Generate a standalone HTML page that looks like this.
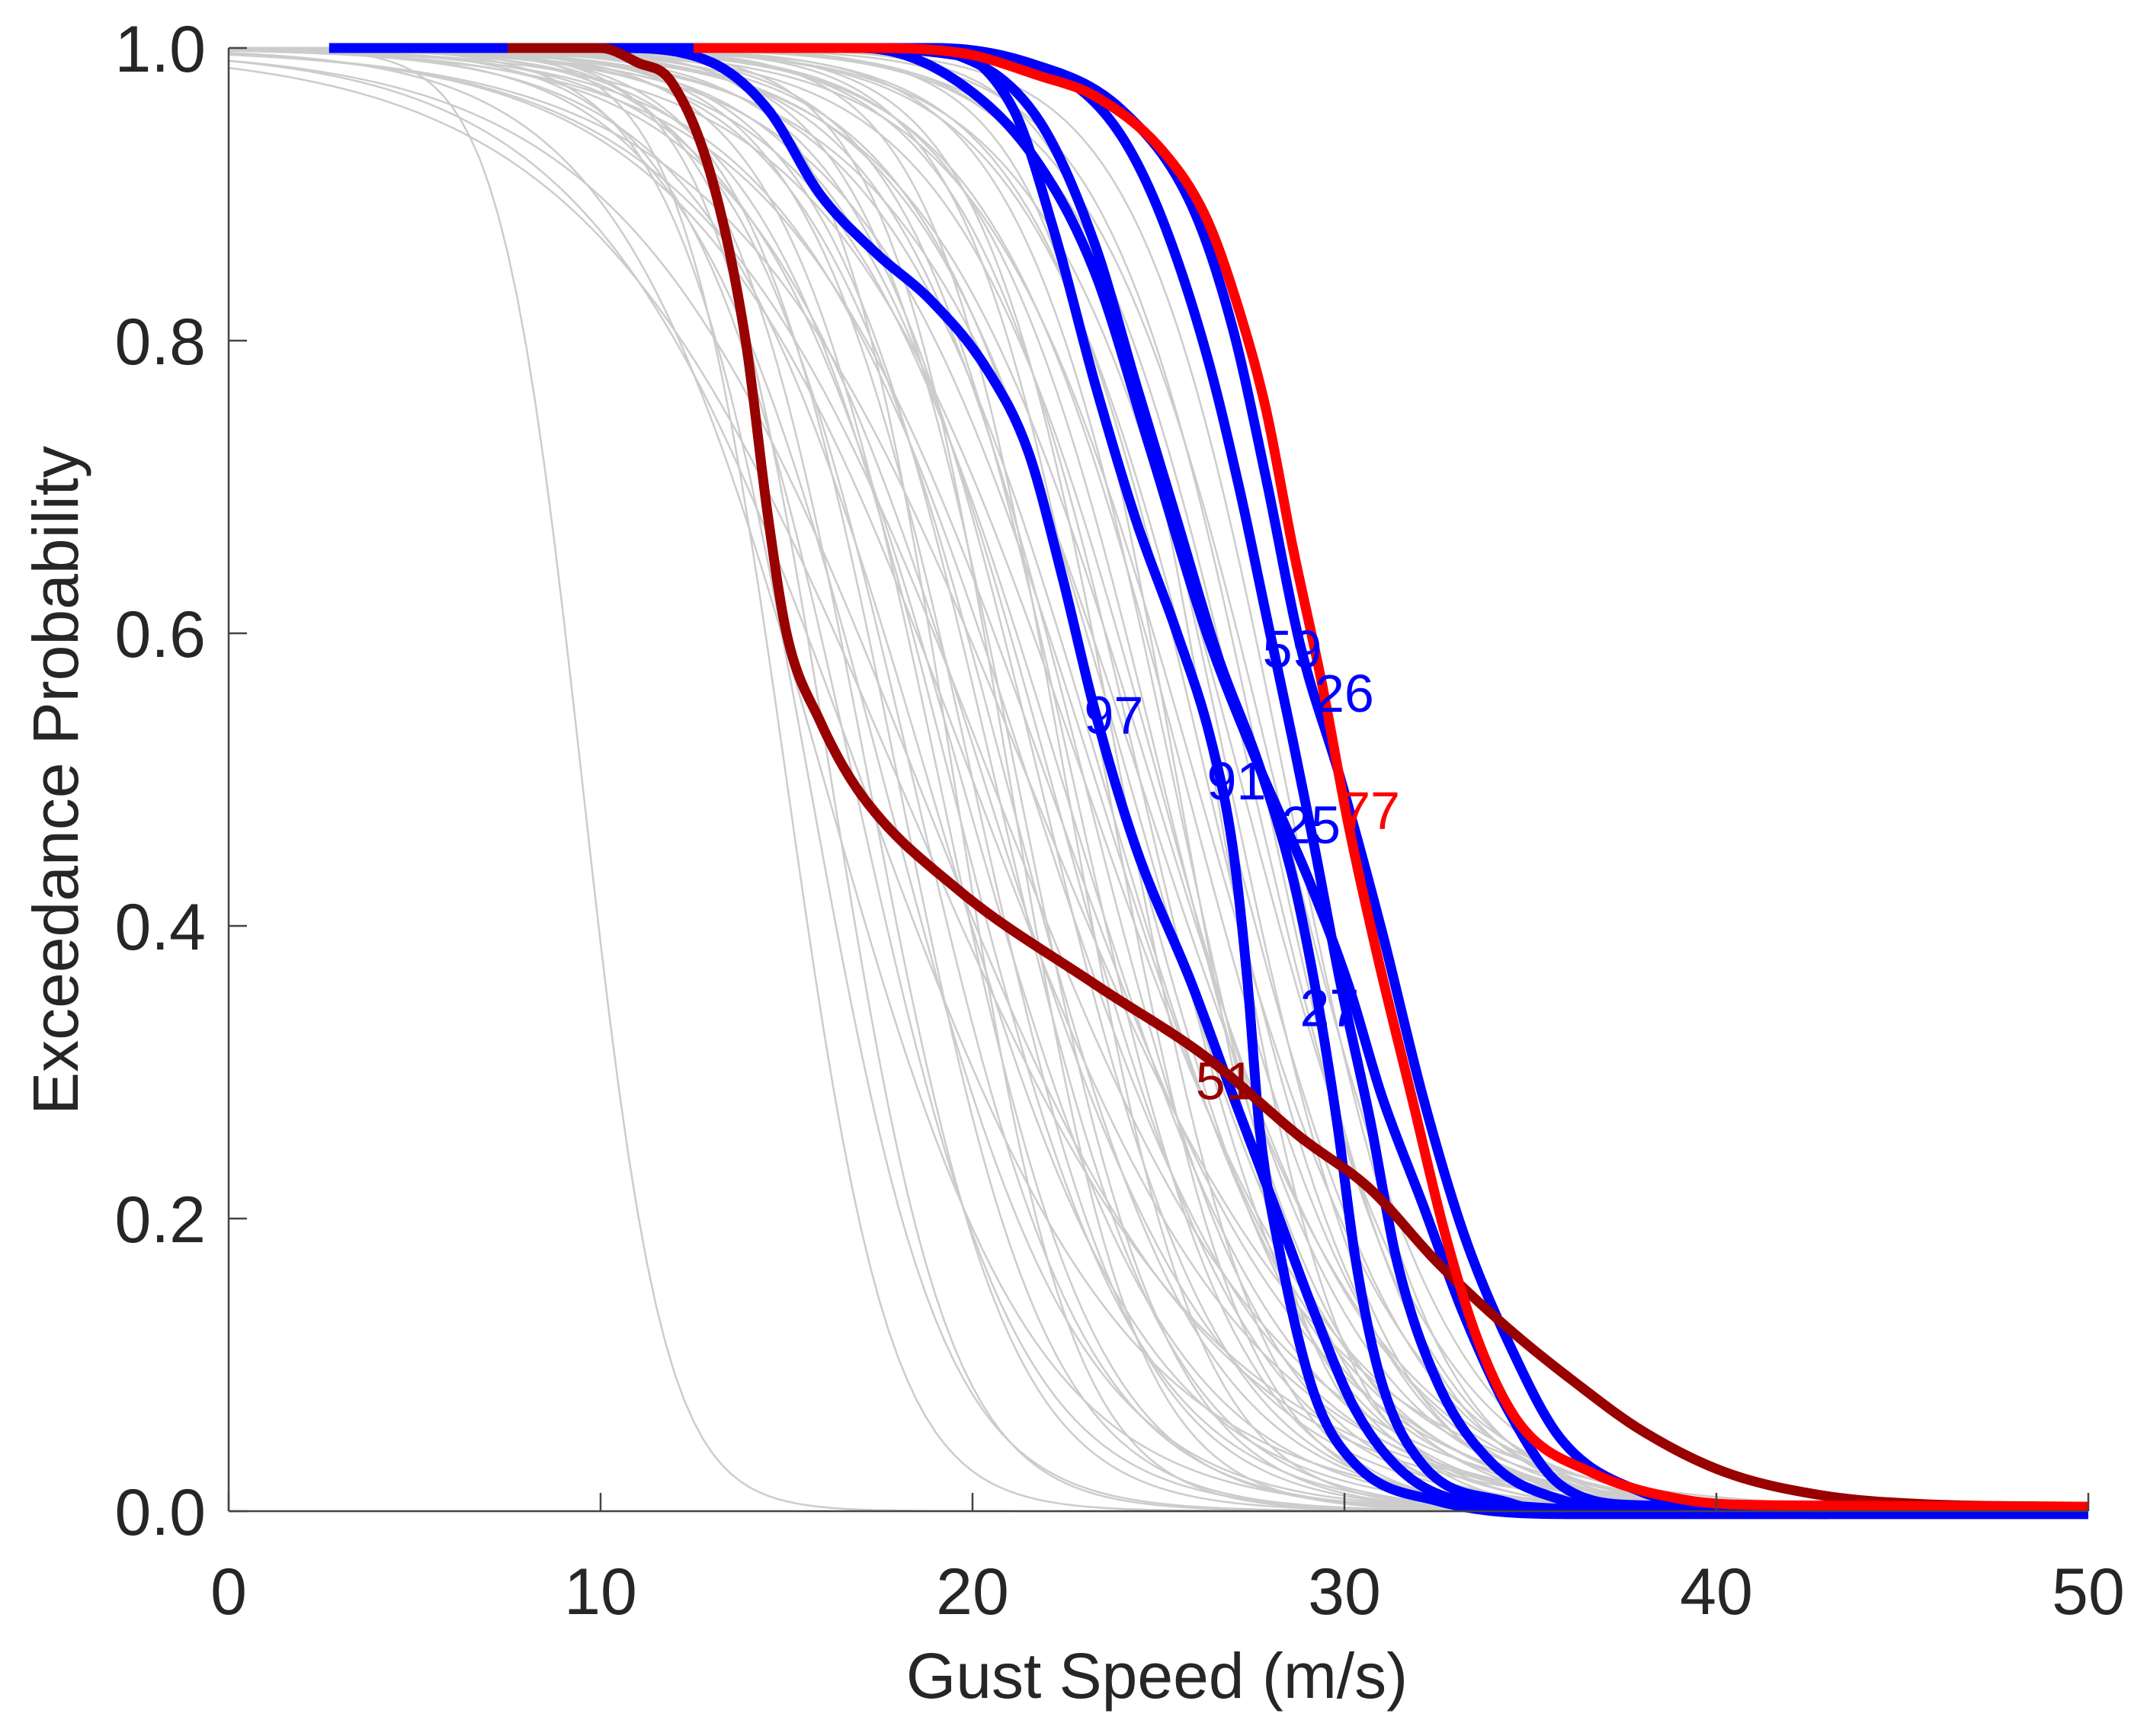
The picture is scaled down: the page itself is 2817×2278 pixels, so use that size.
<!DOCTYPE html>
<html><head><meta charset="utf-8"><style>
html,body{margin:0;padding:0;background:#fff}
svg{display:block}
text{font-family:"Liberation Sans",sans-serif}
</style></head><body>
<svg id="chart" width="2817" height="2278" viewBox="0 0 2817 2278" xmlns="http://www.w3.org/2000/svg">
<g id="gray"></g>
<g id="hl"></g>
<g id="axes"></g>
<g id="lbls"></g>
<text x="1518" y="2228" font-size="84" fill="#262626" text-anchor="middle">Gust Speed (m/s)</text>
<text transform="translate(102,1024) rotate(-90)" font-size="84" fill="#262626" text-anchor="middle">Exceedance Probability</text>
</svg>
<script>
const xTicks=[0,10,20,30,40,50];
const yTicks=[0,0.2,0.4,0.6,0.8,1.0];
const yTickLabels=["0.0","0.2","0.4","0.6","0.8","1.0"];
// background curves: median speed and spread
const grayCenters=[9.5,15.0,15.6,16.2,16.8,17.2,17.6,18.0,18.4,18.8,19.1,19.4,19.7,20.0,20.3,20.6,20.9,21.2,21.5,21.8,22.1,22.4,22.7,23.0,23.3,23.6,23.9,24.2,24.5,24.8,25.1,25.4,25.7,26.0,26.3,26.6,26.9,27.2,27.5,27.8,28.1,28.4,17.0,18.5,20.0,21.5,23.0,24.5,19.5,21.0,22.5,24.0,25.5,26.5,16.0,18.0,20.5,22.0,23.5,25.0];
const graySpreads=[1.1,1.4,1.8,1.6,2.2,1.9,2.6,2.0,2.3,2.9,2.1,2.5,2.8,2.2,3.1,2.3,2.6,2.0,3.2,2.4,2.7,3.0,2.2,2.5,3.1,1.9,2.6,2.8,2.3,3.0,2.4,2.1,2.6,2.8,2.3,2.5,2.1,2.6,2.3,2.1,2.4,2.0,3.6,3.9,3.7,4.0,3.4,3.2,1.6,1.7,1.8,1.9,1.8,1.7,2.8,4.2,3.8,3.5,2.9,2.7];
// highlighted series [speed, probability]
const s51=[[7.5,1.0],[10,1.0],[11,0.99],[11.9,0.977],[13,0.91],[13.9,0.8],[14.5,0.68],[15,0.6],[15.9,0.54],[17,0.49],[19.6,0.425],[23.3,0.36],[26.3,0.31],[28.8,0.256],[30.7,0.22],[32.5,0.17],[34.4,0.125],[36.2,0.088],[38,0.055],[40.2,0.027],[42.8,0.011],[45.4,0.005],[50,0.003]];
const s77=[[12.5,1.0],[17,1.0],[19.6,0.997],[21.8,0.981],[23.3,0.967],[25.1,0.93],[26.3,0.883],[27.2,0.818],[27.9,0.752],[28.6,0.66],[29.4,0.565],[30.1,0.47],[30.9,0.378],[31.8,0.284],[32.7,0.19],[33.6,0.116],[34.7,0.06],[36.6,0.027],[39.1,0.008],[41.7,0.004],[50,0.003]];
const s97=[[2.7,1.0],[10.4,1.0],[13,0.99],[14.5,0.958],[15.9,0.9],[17.4,0.86],[18.9,0.827],[20.4,0.78],[21.5,0.724],[22.4,0.64],[23.3,0.546],[24.4,0.453],[25.9,0.36],[27,0.284],[28.1,0.21],[29.2,0.135],[30.3,0.069],[31.8,0.022],[34.4,0.004],[43,-0.002]];
const s91=[[8,1.0],[19,1.0],[21.1,0.958],[22.2,0.874],[23.3,0.77],[24.4,0.677],[25.5,0.6],[26.4,0.528],[27,0.453],[27.4,0.36],[27.7,0.266],[28.3,0.172],[29.2,0.079],[30.3,0.032],[32.5,0.007],[36,-0.002],[50,-0.002]];
const s25=[[8,1.0],[17,1.0],[19.6,0.977],[21.8,0.92],[23.3,0.846],[24.8,0.724],[26.3,0.6],[27.7,0.509],[29,0.434],[30.1,0.36],[31,0.284],[32.1,0.21],[33.2,0.135],[34.4,0.069],[35.8,0.018],[38,0.004],[50,0.0]];
const s27=[[8,1.0],[18,1.0],[19.6,0.995],[21.8,0.95],[23.3,0.865],[24.4,0.77],[25.5,0.677],[26.6,0.584],[27.7,0.51],[28.6,0.434],[29.2,0.36],[29.8,0.266],[30.3,0.172],[31,0.088],[32.1,0.032],[34.4,0.006],[36,-0.002],[50,-0.002]];
const s59=[[8,1.0],[17,1.0],[19.6,0.995],[22.6,0.977],[24,0.94],[25.1,0.883],[26.3,0.79],[27.2,0.696],[27.9,0.612],[28.6,0.528],[29.2,0.453],[29.9,0.36],[30.7,0.266],[31.4,0.172],[32.5,0.088],[34,0.032],[35.8,0.008],[38,0.0],[50,0.0]];
const s26=[[8,1.0],[19,1.0],[21.5,0.99],[24,0.958],[25.9,0.892],[27,0.808],[27.9,0.705],[28.8,0.593],[29.9,0.5],[31,0.397],[32.1,0.284],[33.2,0.19],[34.4,0.116],[35.8,0.05],[38,0.013],[40.2,0.004],[50,0.0]];
const labelNames=["97","59","26","91","25","77","27","51"];
const labelPos=[[23,0.545],[27.8,0.59],[29.2,0.56],[26.3,0.5],[28.3,0.47],[29.9,0.48],[28.8,0.345],[26,0.295]];
const labelColors=["#0000ff","#0000ff","#0000ff","#0000ff","#0000ff","#ff0000","#0000ff","#990000"];

const NS="http://www.w3.org/2000/svg";
const X=v=>300+v*48.8;
const Y=p=>1983-p*1920;
function monotonePath(pts){
  const n=pts.length,xs=pts.map(p=>p[0]),ys=pts.map(p=>p[1]);
  const d=[],m=new Array(n);
  for(let i=0;i<n-1;i++)d.push((ys[i+1]-ys[i])/(xs[i+1]-xs[i]));
  m[0]=d[0];m[n-1]=d[n-2];
  for(let i=1;i<n-1;i++){m[i]=(d[i-1]*d[i]<=0)?0:(d[i-1]+d[i])/2;}
  for(let i=0;i<n-1;i++){
    if(d[i]===0){m[i]=0;m[i+1]=0;continue;}
    const a=m[i]/d[i],b=m[i+1]/d[i],s=a*a+b*b;
    if(s>9){const t=3/Math.sqrt(s);m[i]=t*a*d[i];m[i+1]=t*b*d[i];}
  }
  let str="M"+X(xs[0]).toFixed(1)+","+Y(ys[0]).toFixed(1);
  for(let i=0;i<n-1;i++){
    const h=xs[i+1]-xs[i];
    str+=" C"+X(xs[i]+h/3).toFixed(1)+","+Y(ys[i]+m[i]*h/3).toFixed(1)+" "+X(xs[i+1]-h/3).toFixed(1)+","+Y(ys[i+1]-m[i+1]*h/3).toFixed(1)+" "+X(xs[i+1]).toFixed(1)+","+Y(ys[i+1]).toFixed(1);
  }
  return str;
}
const gG=document.getElementById("gray");
grayCenters.forEach((c,i)=>{
  const w=graySpreads[i];
  let d="";
  for(let v=0;v<=50.001;v+=0.25){
    const p=1/(1+Math.exp((v-c)/w));
    d+=(v===0?"M":"L")+X(v).toFixed(1)+","+Y(p).toFixed(1);
  }
  const el=document.createElementNS(NS,"path");
  el.setAttribute("d",d);
  el.setAttribute("fill","none");
  el.setAttribute("stroke","#cccccc");
  el.setAttribute("stroke-width","2.5");
  
  
  gG.appendChild(el);
});
const hl=document.getElementById("hl");
const series=[[s97,"#0000ff","curve-97"],[s91,"#0000ff","curve-91"],[s25,"#0000ff","curve-25"],[s27,"#0000ff","curve-27"],[s59,"#0000ff","curve-59"],[s26,"#0000ff","curve-26"],[s51,"#990000","curve-51"],[s77,"#ff0000","curve-77"]];
series.forEach(s=>{
  const el=document.createElementNS(NS,"path");
  el.setAttribute("d",monotonePath(s[0]));
  el.setAttribute("fill","none");
  el.setAttribute("stroke",s[1]);
  el.setAttribute("stroke-width","13");
  
  
  hl.appendChild(el);
});
const ax=document.getElementById("axes");
function line(x1,y1,x2,y2,name){
  const l=document.createElementNS(NS,"line");
  l.setAttribute("x1",x1);l.setAttribute("y1",y1);l.setAttribute("x2",x2);l.setAttribute("y2",y2);
  l.setAttribute("stroke","#444");l.setAttribute("stroke-width","2.5");
  
  
  ax.appendChild(l);
}
line(X(0),Y(0),X(50),Y(0),"x-axis-line");
line(X(0),Y(0),X(0),Y(1),"y-axis-line");
xTicks.forEach(t=>{
  line(X(t),Y(0),X(t),Y(0)-24,"x-tick");
  const tx=document.createElementNS(NS,"text");
  tx.setAttribute("x",X(t));tx.setAttribute("y",2118);
  tx.setAttribute("font-size","86");tx.setAttribute("fill","#262626");tx.setAttribute("text-anchor","middle");
  tx.textContent=t;
  
  
  ax.appendChild(tx);
});
yTicks.forEach((t,i)=>{
  line(X(0),Y(t),X(0)+24,Y(t),"y-tick");
  const tx=document.createElementNS(NS,"text");
  tx.setAttribute("x",270);tx.setAttribute("y",Y(t)+31);
  tx.setAttribute("font-size","86");tx.setAttribute("fill","#262626");tx.setAttribute("text-anchor","end");
  tx.textContent=yTickLabels[i];
  
  
  ax.appendChild(tx);
});
const lb=document.getElementById("lbls");
labelNames.forEach((n,i)=>{
  const tx=document.createElementNS(NS,"text");
  tx.setAttribute("x",X(labelPos[i][0]));tx.setAttribute("y",Y(labelPos[i][1])+26);
  tx.setAttribute("font-size","70");tx.setAttribute("fill",labelColors[i]);
  tx.textContent=n;
  
  
  lb.appendChild(tx);
});
</script>
</body></html>
